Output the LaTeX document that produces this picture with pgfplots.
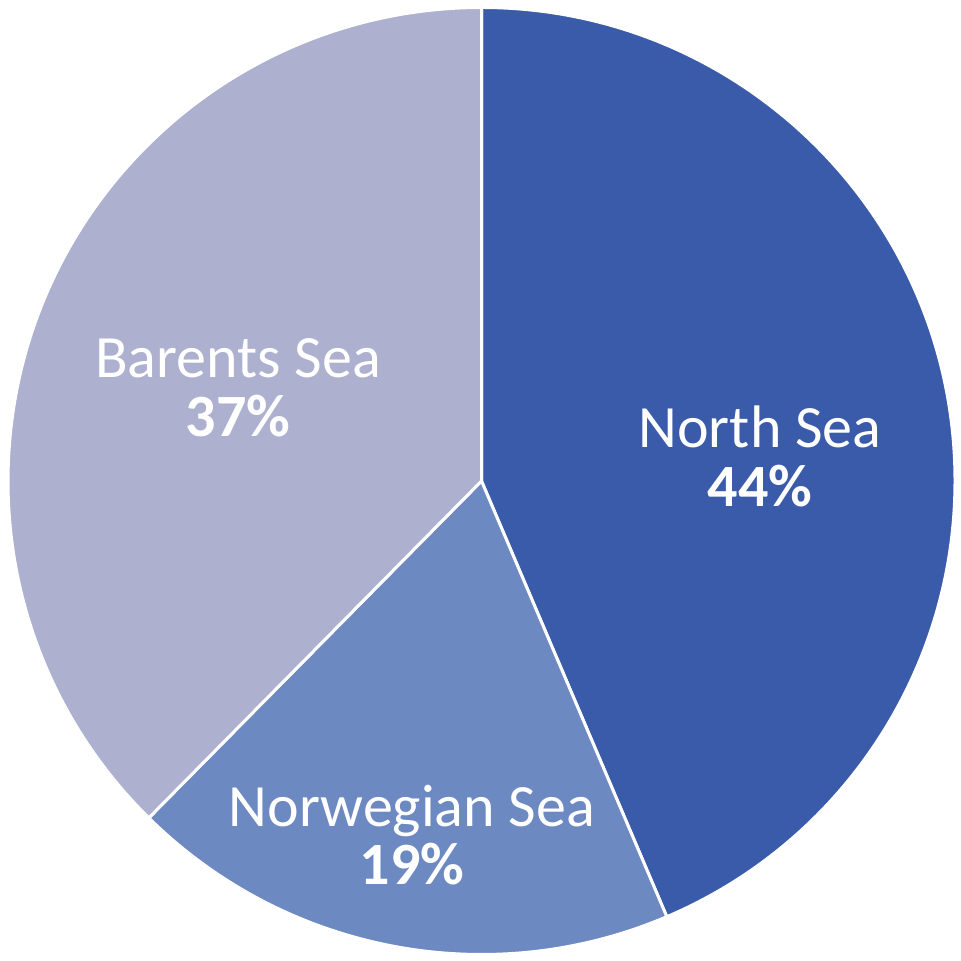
\documentclass[border=0pt]{standalone}
\usepackage{fontspec}
\setmainfont{Carlito}
\usepackage{pgfplots}
\usepackage{pgfplotstable}
\pgfplotsset{compat=1.18}
\definecolor{cNorth}{HTML}{3A5BA9}
\definecolor{cNorw}{HTML}{6C89C1}
\definecolor{cBar}{HTML}{ADB0CF}
\begin{document}
\begin{tikzpicture}
\useasboundingbox (-240.75pt,-240pt) rectangle (239.25pt,240.5pt);
\begin{axis}[at={(0,0)}, anchor=center, scale only axis,
  width=473.5pt, height=473.5pt,
  xmin=-1, xmax=1, ymin=-1, ymax=1,
  hide axis, clip=false]
\pgfplotsextra{
  \gdef\startang{90}
  \foreach \v/\col in {43.6/cNorth, 18.8/cNorw, 37.6/cBar}{
    \pgfmathsetmacro\endang{\startang-\v*3.6}
    \fill[\col, draw=white, line width=1.5pt, line join=round]
      (axis cs:0,0) -- (axis cs:{cos(\startang)},{sin(\startang)})
      arc[start angle=\startang, end angle=\endang, radius=236.75pt] -- cycle;
    \xdef\startang{\endang}
  }
}
\begin{scope}[every node/.style={text=white, anchor=base, inner sep=0pt, font=\fontsize{30}{32}\selectfont}]
\node at (axis cs:0.588,0.0697) {North Sea};
\node at (axis cs:0.588,-0.0549) {\textbf{44\%}};
\node at (axis cs:-0.147,-0.7307) {Norwegian Sea};
\node at (axis cs:-0.147,-0.853) {\textbf{19\%}};
\node at (axis cs:-0.514,0.2196) {Barents Sea};
\node at (axis cs:-0.514,0.095) {\textbf{37\%}};
\end{scope}
\end{axis}
\end{tikzpicture}
\end{document}
